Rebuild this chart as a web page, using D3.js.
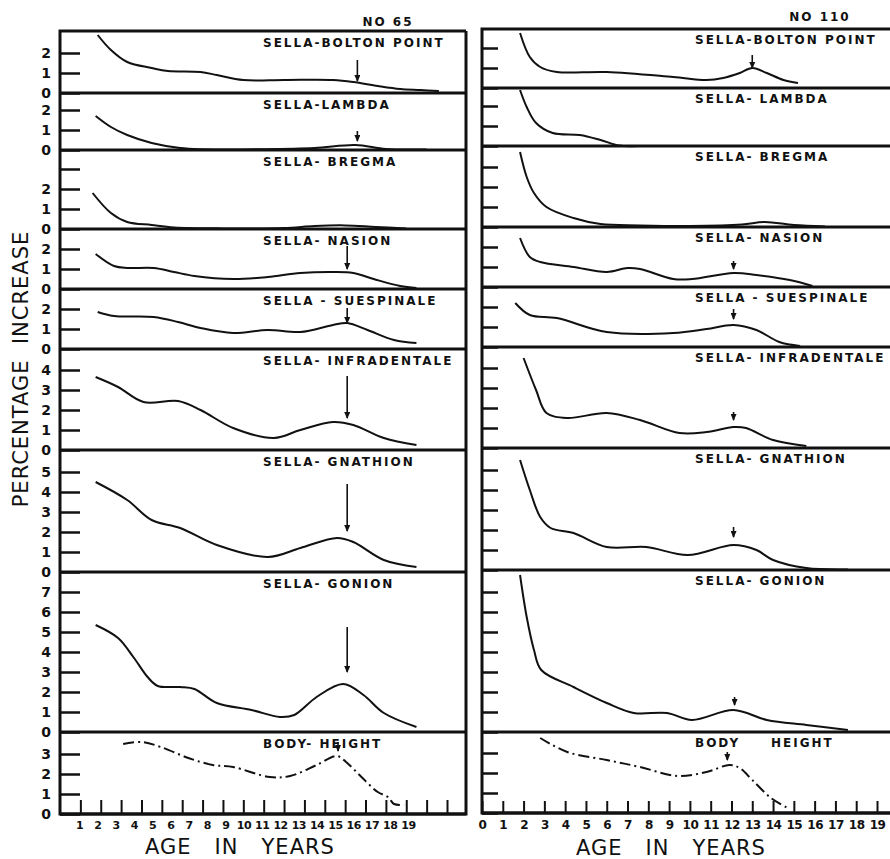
<!DOCTYPE html>
<meta charset="utf-8">
<head>
  <title>Percentage increase by age</title>
</head>

<style>
body {
  margin: 0;
  background: #fff;
}
svg text {
  font-family: "DejaVu Sans", sans-serif;
  fill: #111;
}
.lab {
  font-size: 12px;
  font-weight: bold;
  letter-spacing: 2px;
  white-space: pre;
}
.big {
  font-size: 21px;
  letter-spacing: 1px;
  white-space: pre;
}
</style>

<body>
  <svg width="890" height="859"></svg>

  <script src="https://cdnjs.cloudflare.com/ajax/libs/d3/7.8.5/d3.min.js"></script>

  <script>
// panel titles, top to bottom
var namesL = ['SELLA-BOLTON POINT', 'SELLA-LAMBDA', 'SELLA- BREGMA', 'SELLA- NASION',
  'SELLA - SUESPINALE', 'SELLA- INFRADENTALE', 'SELLA- GNATHION', 'SELLA- GONION', 'BODY- HEIGHT'];
var namesR = ['SELLA-BOLTON POINT', 'SELLA- LAMBDA', 'SELLA- BREGMA', 'SELLA- NASION',
  'SELLA - SUESPINALE', 'SELLA- INFRADENTALE', 'SELLA- GNATHION', 'SELLA- GONION', 'BODY     HEIGHT'];

// y ticks per panel and which of them carry a number (left chart only)
var tickCounts = [2, 2, 3, 2, 2, 4, 5, 7, 3];
var tickLabels = [[0, 1, 2], [0, 1, 2], [0, 1, 2], [0, 1, 2], [0, 1, 2],
  [0, 1, 2, 3, 4], [0, 1, 2, 3, 4, 5], [0, 1, 2, 3, 4, 5, 6, 7], [0, 1, 2, 3]];

var agesL = d3.range(1, 20);
var agesR = d3.range(0, 20);

// ---- NO 65 : [age, percent increase]
var boltonL = [[1.85, 2.9], [2.5, 2.15], [3.3, 1.55], [4.5, 1.25], [5.3, 1.1], [6.9, 1.05], [7.7, 0.9],
  [9.0, 0.65], [11.0, 0.65], [13.4, 0.65], [14.4, 0.55], [15.6, 0.35], [16.7, 0.2], [17.7, 0.15], [18.6, 0.1]];
var lambdaL = [[1.75, 1.7], [2.5, 1.15], [3.3, 0.75], [4.5, 0.35], [5.9, 0.1], [7, 0.04], [10, 0.04],
  [12.5, 0.1], [14.5, 0.25], [16, 0.05], [18, 0.03]];
var bregmaL = [[1.6, 1.8], [2.5, 0.8], [3.3, 0.35], [4.5, 0.2], [5.6, 0.08], [8, 0.03], [11, 0.05],
  [12.5, 0.15], [14, 0.18], [15.5, 0.1], [17, 0.03]];
var nasionL = [[1.75, 1.75], [2.65, 1.15], [3.3, 1.05], [4.6, 1.05], [5.6, 0.85], [6.6, 0.65], [8.5, 0.5],
  [10.2, 0.6], [11.8, 0.8], [13.4, 0.85], [14.4, 0.8], [15.4, 0.5], [16.7, 0.15], [17.5, 0.05]];
var suespL = [[1.85, 1.85], [2.65, 1.65], [4.6, 1.6], [5.8, 1.35], [6.9, 1.05], [8.5, 0.8], [10.2, 0.95],
  [11.8, 0.85], [13.4, 1.2], [14.1, 1.3], [15.1, 0.95], [16.4, 0.45], [17.5, 0.3]];
var infraL = [[1.75, 3.65], [2.85, 3.15], [4.1, 2.4], [5.8, 2.45], [6.9, 2.0], [8.5, 1.1], [10.5, 0.6],
  [11.8, 1.0], [13.4, 1.4], [14.4, 1.25], [15.9, 0.6], [17.5, 0.25]];
var gnathL = [[1.75, 4.5], [3.3, 3.6], [4.5, 2.6], [5.9, 2.2], [7.7, 1.35], [10.2, 0.75], [11.8, 1.2],
  [13.6, 1.7], [14.4, 1.5], [15.9, 0.6], [17.5, 0.25]];
var gonionL = [[1.75, 5.35], [2.85, 4.7], [3.6, 3.75], [4.3, 2.75], [4.8, 2.3], [5.9, 2.25], [6.6, 2.15],
  [7.7, 1.45], [9.4, 1.1], [10.8, 0.75], [11.5, 0.85], [12.6, 1.75], [13.9, 2.4], [14.9, 1.85],
  [15.9, 0.95], [17.5, 0.25]];
var bodyL = [[3.1, 3.5], [4.0, 3.6], [4.95, 3.35], [6.3, 2.8], [7.5, 2.45], [8.5, 2.35], [10.3, 1.85],
  [11.3, 1.9], [12.6, 2.45], [13.6, 2.9], [14.1, 2.55], [14.8, 1.85], [15.6, 1.1], [16.1, 0.85],
  [16.4, 0.5], [16.9, 0.45]];

// ---- NO 110
var boltonR = [[1.83, 2.75], [2.3, 1.55], [2.8, 1.05], [3.6, 0.8], [6.0, 0.8], [9.2, 0.55], [10.8, 0.4],
  [11.6, 0.5], [12.4, 0.75], [13.0, 1.0], [13.7, 0.75], [14.5, 0.4], [15.2, 0.25]];
var lambdaR = [[1.83, 2.8], [2.15, 1.95], [2.6, 1.15], [3.4, 0.65], [4.7, 0.55], [5.7, 0.3], [6.6, 0.02],
  [7.5, 0]];
var bregmaR = [[1.83, 3.75], [2.15, 2.5], [2.5, 1.7], [3.1, 1.0], [4.4, 0.45], [5.7, 0.15], [7.6, 0.08],
  [10, 0.05], [12.5, 0.12], [13.6, 0.25], [15, 0.1], [16.5, 0.03]];
var nasionR = [[1.83, 2.45], [2.3, 1.5], [2.8, 1.25], [4.4, 1.0], [6.0, 0.75], [7.0, 0.95], [7.6, 0.9],
  [9.2, 0.4], [10.1, 0.4], [12.1, 0.7], [13.2, 0.6], [14.8, 0.35], [15.9, 0.05]];
var suespR = [[1.6, 2.2], [2.3, 1.6], [3.6, 1.45], [6.0, 0.75], [9.2, 0.7], [10.8, 0.9], [12.1, 1.1],
  [13.2, 0.85], [14.3, 0.25], [15.3, 0.05]];
var infraR = [[2.0, 4.5], [2.6, 2.9], [3.1, 1.75], [4.1, 1.5], [6.0, 1.75], [7.6, 1.4], [9.5, 0.75],
  [10.8, 0.8], [12.1, 1.05], [12.7, 1.0], [14.0, 0.4], [15.6, 0.1]];
var gnathR = [[1.83, 5.5], [2.3, 4.0], [2.8, 2.65], [3.3, 2.1], [4.4, 1.85], [6.0, 1.15], [7.9, 1.15],
  [9.9, 0.75], [12.1, 1.25], [13.2, 1.0], [14.0, 0.5], [15.6, 0.1], [17.6, 0.03]];
var gonionR = [[1.83, 7.85], [2.15, 5.75], [2.5, 4.1], [2.85, 3.1], [4.4, 2.25], [6.0, 1.45], [7.3, 0.95],
  [8.9, 0.95], [10.1, 0.6], [12.1, 1.1], [13.7, 0.6], [15.6, 0.35], [17.6, 0.1]];
var bodyR = [[2.8, 3.75], [4.1, 3.05], [6.0, 2.65], [7.6, 2.3], [9.4, 1.85], [10.8, 2.05], [11.9, 2.4],
  [12.4, 2.25], [13.0, 1.65], [13.9, 0.75], [14.7, 0.25]];

// arrows: [age, from, to]
var arrowsL = [[14.6, 1.65, 0.6], [14.6, 0.95, 0.45], null, [14.1, 2.15, 1.0], [14.1, 2.05, 1.3],
  [14.1, 3.7, 1.6], [14.1, 4.4, 2.05], [14.1, 5.25, 3.0], [13.65, 3.6, 3.15]];
var arrowsR = [[13.0, 1.65, 1.0], null, null, [12.1, 1.3, 0.9], [12.1, 1.9, 1.4], [12.1, 1.8, 1.4],
  [12.1, 2.15, 1.65], [12.15, 1.75, 1.35], [11.8, 3.05, 2.65]];

var curvesL = [boltonL, lambdaL, bregmaL, nasionL, suespL, infraL, gnathL, gonionL, bodyL];
var curvesR = [boltonR, lambdaR, bregmaR, nasionR, suespR, infraR, gnathR, gonionR, bodyR];

// layout
var UNIT = 20;
var svg = d3.select('svg');

svg.append('defs').append('marker')
  .attr('id', 'head')
  .attr('viewBox', '0 -3 7 6')
  .attr('refX', 6).attr('refY', 0)
  .attr('markerUnits', 'userSpaceOnUse')
  .attr('markerWidth', 7).attr('markerHeight', 6)
  .attr('orient', 'auto')
  .append('path').attr('d', 'M0,-3L7,0L0,3Z').attr('fill', '#111');

var left = {
  x0: 60, x1: 466, top: 31, bottom: 814,
  zeros: [93, 150, 229, 289, 349, 450, 572, 732, 814],
  x: d3.scaleLinear().domain([0, 19]).range([60, 447]),
  tick: 20, labX: 263, labDy: 12.5, numbers: true,
  names: namesL, curves: curvesL, arrows: arrowsL
};
var right = {
  x0: 482, x1: 890, top: 29, bottom: 813,
  zeros: [88, 146, 227, 287, 347, 448, 570, 732, 813],
  x: d3.scaleLinear().domain([0, 19]).range([482, 877]),
  tick: 16, labX: 695, labDy: 11, numbers: false,
  names: namesR, curves: curvesR, arrows: arrowsR
};

function drawColumn(c) {
  var g = svg.append('g');

  c.zeros.forEach(function(zero, i) {
    var top = i === 0 ? c.top : c.zeros[i - 1];
    var y = d3.scaleLinear().domain([0, (zero - top) / UNIT]).range([zero, top]);

    // y ticks
    var ax = g.append('g')
      .attr('transform', 'translate(' + c.x0 + ',0)')
      .call(d3.axisLeft(y)
        .tickValues(d3.range(0, tickCounts[i] + 1))
        .tickSize(-c.tick)
        .tickPadding(9)
        .tickFormat(function(d) { return c.numbers && tickLabels[i].indexOf(d) >= 0 ? d : ''; }));
    ax.select('.domain').remove();
    ax.selectAll('line').attr('stroke', '#111').attr('stroke-width', 2.5);
    ax.selectAll('text').attr('font-size', 14).attr('font-weight', 'bold')
      .attr('font-family', '"DejaVu Sans", sans-serif').attr('fill', '#111');

    // panel divider / zero line
    g.append('line')
      .attr('x1', c.x0).attr('x2', c.x1).attr('y1', zero).attr('y2', zero)
      .attr('stroke', '#111').attr('stroke-width', 2.8);

    // curve
    var line = d3.line()
      .x(function(d) { return c.x(d[0]); })
      .y(function(d) { return y(d[1]); })
      .curve(d3.curveCatmullRom.alpha(0.5));
    g.append('path')
      .datum(c.curves[i])
      .attr('d', line)
      .attr('fill', 'none')
      .attr('stroke', '#111')
      .attr('stroke-width', 2)
      .attr('stroke-dasharray', i === 8 ? '11,4,2,4' : null);

    // arrow at the spurt
    var a = c.arrows[i];
    if (a) {
      g.append('line')
        .attr('x1', c.x(a[0])).attr('x2', c.x(a[0]))
        .attr('y1', y(a[1])).attr('y2', y(a[2]))
        .attr('stroke', '#111').attr('stroke-width', 1.6)
        .attr('marker-end', 'url(#head)');
    }

    // title
    g.append('text')
      .attr('class', 'lab')
      .attr('x', c.labX).attr('y', top + c.labDy)
      .attr('dominant-baseline', 'middle')
      .text(c.names[i]);
  });

  // frame
  g.append('path')
    .attr('d', 'M' + c.x1 + ',' + c.top + 'H' + c.x0 + 'V' + c.bottom + 'H' + c.x1 +
      (c.x1 < 880 ? 'V' + c.top : ''))
    .attr('fill', 'none').attr('stroke', '#111').attr('stroke-width', 3);

  return g;
}

drawColumn(left);
drawColumn(right);

// x axes
var xt = svg.append('g').attr('transform', 'translate(0,' + left.bottom + ')')
  .call(d3.axisBottom(left.x).tickValues(agesL).tickSize(-14).tickFormat(''));
xt.select('.domain').remove();
xt.selectAll('line').attr('stroke', '#111').attr('stroke-width', 2);

// the hand lettering of NO 65 runs a little tighter than its tick marks
var xLab = d3.scaleLinear().domain([1, 19]).range([79, 408]);
var xl = svg.append('g').attr('transform', 'translate(0,' + left.bottom + ')')
  .call(d3.axisBottom(xLab).tickValues(agesL).tickSize(0).tickPadding(7));
xl.select('.domain').remove();
xl.selectAll('text').attr('font-size', 11).attr('font-weight', 'bold').attr('letter-spacing', -0.5)
  .attr('font-family', '"DejaVu Sans", sans-serif').attr('fill', '#111');

var xr = svg.append('g').attr('transform', 'translate(0,' + right.bottom + ')')
  .call(d3.axisBottom(right.x).tickValues(agesR).tickSize(-12).tickPadding(7));
xr.select('.domain').remove();
xr.selectAll('line').attr('stroke', '#111').attr('stroke-width', 2);
xr.selectAll('text').attr('font-size', 12).attr('font-weight', 'bold').attr('letter-spacing', -0.5)
  .attr('font-family', '"DejaVu Sans", sans-serif').attr('fill', '#111');

// case numbers
svg.append('text').attr('class', 'lab').attr('x', 388).attr('y', 22)
  .attr('text-anchor', 'middle').attr('dominant-baseline', 'middle').attr('font-size', 10).text('NO 65');
svg.append('text').attr('class', 'lab').attr('x', 820).attr('y', 17)
  .attr('text-anchor', 'middle').attr('dominant-baseline', 'middle').attr('font-size', 10).text('NO 110');

// axis titles
svg.append('text').attr('class', 'big').attr('x', 240).attr('y', 848)
  .attr('text-anchor', 'middle').attr('dominant-baseline', 'middle').text('AGE   IN   YEARS');
svg.append('text').attr('class', 'big').attr('x', 671).attr('y', 849)
  .attr('text-anchor', 'middle').attr('dominant-baseline', 'middle').text('AGE   IN   YEARS');
svg.append('text').attr('class', 'big')
  .attr('transform', 'translate(22,369) rotate(-90)')
  .attr('text-anchor', 'middle').attr('dominant-baseline', 'middle').text('PERCENTAGE  INCREASE');
  </script>
</body>
</html>
